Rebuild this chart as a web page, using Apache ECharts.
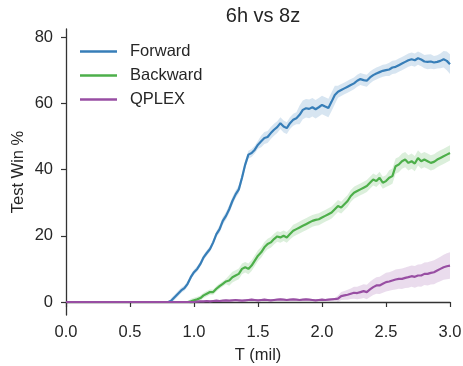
<!DOCTYPE html>
<html>
<head>
<meta charset="utf-8">
<script src="https://cdn.jsdelivr.net/npm/echarts@6/dist/echarts.min.js"></script>
<style>
  html, body { margin: 0; padding: 0; background: #fff; }
  #main { width: 463px; height: 366px; }
</style>
</head>
<body>
<div id="main"></div>
<script>
// 时间步 T (mil)，每 0.025 一个点
var T = [
  0.000, 0.025, 0.050, 0.075, 0.100, 0.125, 0.150, 0.175, 0.200, 0.225,
  0.250, 0.275, 0.300, 0.325, 0.350, 0.375, 0.400, 0.425, 0.450, 0.475,
  0.500, 0.525, 0.550, 0.575, 0.600, 0.625, 0.650, 0.675, 0.700, 0.725,
  0.750, 0.775, 0.800, 0.825, 0.850, 0.875, 0.900, 0.925, 0.950, 0.975,
  1.000, 1.025, 1.050, 1.075, 1.100, 1.125, 1.150, 1.175, 1.200, 1.225,
  1.250, 1.275, 1.300, 1.325, 1.350, 1.375, 1.400, 1.425, 1.450, 1.475,
  1.500, 1.525, 1.550, 1.575, 1.600, 1.625, 1.650, 1.675, 1.700, 1.725,
  1.750, 1.775, 1.800, 1.825, 1.850, 1.875, 1.900, 1.925, 1.950, 1.975,
  2.000, 2.025, 2.050, 2.075, 2.100, 2.125, 2.150, 2.175, 2.200, 2.225,
  2.250, 2.275, 2.300, 2.325, 2.350, 2.375, 2.400, 2.425, 2.450, 2.475,
  2.500, 2.525, 2.550, 2.575, 2.600, 2.625, 2.650, 2.675, 2.700, 2.725,
  2.750, 2.775, 2.800, 2.825, 2.850, 2.875, 2.900, 2.925, 2.950, 2.975,
  3.000
];

// Forward 均值
var forwardMean = [
  0, 0, 0, 0, 0, 0, 0, 0, 0, 0,
  0, 0, 0, 0, 0, 0, 0, 0, 0, 0,
  0, 0, 0, 0, 0, 0, 0, 0, 0, 0,
  0, 0, 0, 0.5, 1.5, 2.5, 3.5, 4.2, 5.5, 7.5,
  9.0, 10.0, 11.5, 13.5, 14.8, 16.0, 18.0, 20.5, 22.0, 24.5,
  26.0, 28.0, 30.5, 32.5, 34.0, 37.5, 41.5, 44.5, 45.0, 46.0,
  47.5, 48.5, 49.5, 49.8, 51.0, 52.0, 52.8, 54.0, 53.0, 52.5,
  54.0, 55.0, 55.5, 56.5, 58.0, 58.5, 58.3, 58.8, 58.2, 58.8,
  59.5, 59.0, 58.6, 60.5, 62.5, 63.5, 64.0, 64.5, 65.0, 65.5,
  66.0, 66.8, 67.3, 67.0, 66.8, 67.8, 68.5, 69.0, 69.4, 69.8,
  70.0, 70.2, 70.8, 71.0, 71.5, 72.0, 72.5, 73.0, 73.3, 73.0,
  73.6, 73.2, 72.6, 72.5, 72.6, 72.3, 72.5, 72.8, 73.3, 72.8,
  71.8
];
// Forward 标准差（阴影带半宽）
var forwardStd = [
  0, 0, 0, 0, 0, 0, 0, 0, 0, 0,
  0, 0, 0, 0, 0, 0, 0, 0, 0, 0,
  0, 0, 0, 0, 0, 0, 0, 0, 0, 0,
  0, 0, 0, 0.8, 0.8, 0.8, 0.8, 0.8, 0.8, 0.8,
  0.8, 0.8, 0.8, 0.8, 0.8, 0.8, 0.8, 0.8, 1.2, 1.2,
  1.2, 1.2, 1.2, 1.2, 1.2, 1.2, 1.2, 1.2, 1.2, 1.2,
  1.2, 1.8, 1.8, 1.8, 1.8, 1.8, 1.8, 1.8, 1.8, 1.8,
  1.8, 1.8, 1.8, 2.8, 2.8, 2.8, 2.8, 2.8, 2.8, 2.8,
  2.8, 2.8, 2.8, 2.8, 2.8, 1.8, 1.8, 1.8, 1.8, 1.8,
  1.8, 1.8, 1.8, 1.8, 1.8, 1.8, 1.8, 1.8, 1.8, 1.8,
  1.8, 2.0, 2.0, 2.0, 2.0, 2.0, 2.0, 2.0, 2.0, 2.0,
  2.0, 2.0, 2.0, 2.2, 2.2, 2.0, 2.0, 2.2, 2.5, 2.8,
  3.0
];

// Backward 均值
var backwardMean = [
  0, 0, 0, 0, 0, 0, 0, 0, 0, 0,
  0, 0, 0, 0, 0, 0, 0, 0, 0, 0,
  0, 0, 0, 0, 0, 0, 0, 0, 0, 0,
  0, 0, 0, 0, 0, 0, 0, 0, 0, 0.2,
  0.5, 0.8, 1.2, 2.0, 2.5, 3.0, 3.0, 4.0, 4.8, 5.5,
  6.2, 6.5, 7.5, 8.0, 8.5, 10.0, 10.5, 10.0, 11.0, 12.5,
  14.0, 15.0, 16.5, 17.5, 18.0, 19.0, 19.8, 19.5, 20.0, 19.5,
  20.5, 21.5, 22.0, 22.5, 23.0, 23.5, 24.0, 24.5, 24.8, 25.0,
  25.5, 26.0, 26.5, 27.0, 28.0, 29.0, 28.5, 29.5, 30.5, 32.0,
  33.0, 33.5, 34.0, 34.5, 35.0, 36.0, 37.0, 36.5, 37.5, 36.0,
  36.5, 37.5, 38.0, 41.0, 41.5, 42.5, 43.0, 42.0, 42.5, 41.8,
  43.5, 42.5, 43.0, 42.5, 42.0, 42.3, 43.0, 43.5, 44.0, 44.5,
  45.0
];
var backwardStd = [
  0, 0, 0, 0, 0, 0, 0, 0, 0, 0,
  0, 0, 0, 0, 0, 0, 0, 0, 0, 0,
  0, 0, 0, 0, 0, 0, 0, 0, 0, 0,
  0, 0, 0, 0, 0, 0, 0, 0, 0, 0.8,
  0.8, 0.8, 0.8, 0.8, 0.8, 0.8, 0.8, 0.8, 0.8, 0.8,
  0.8, 1.6, 1.6, 1.6, 1.6, 1.6, 1.6, 1.6, 1.6, 1.6,
  1.6, 1.6, 1.6, 1.6, 1.6, 1.6, 1.6, 1.6, 1.6, 1.6,
  1.6, 1.8, 1.8, 1.8, 1.8, 1.8, 1.8, 1.8, 1.8, 1.8,
  1.8, 1.8, 1.8, 1.8, 1.8, 1.8, 1.8, 1.8, 1.8, 1.8,
  1.8, 1.8, 1.8, 1.8, 1.8, 1.8, 1.8, 1.8, 1.8, 1.8,
  1.8, 2.3, 2.3, 2.3, 2.3, 2.3, 2.3, 2.3, 2.3, 2.3,
  2.3, 2.3, 2.3, 2.3, 2.3, 2.3, 2.3, 2.3, 2.3, 2.3,
  2.3
];

// QPLEX 均值
var qplexMean = [
  0, 0, 0, 0, 0, 0, 0, 0, 0, 0,
  0, 0, 0, 0, 0, 0, 0, 0, 0, 0,
  0, 0, 0, 0, 0, 0, 0, 0, 0, 0,
  0, 0, 0, 0, 0, 0, 0, 0, 0, 0,
  0, 0.1, 0.2, 0.2, 0.3, 0.2, 0.3, 0.4, 0.3, 0.4,
  0.5, 0.4, 0.5, 0.6, 0.5, 0.4, 0.5, 0.6, 0.7, 0.6,
  0.5, 0.6, 0.7, 0.6, 0.5, 0.6, 0.7, 0.8, 0.7, 0.6,
  0.7, 0.8, 0.7, 0.6, 0.7, 0.8, 0.7, 0.6, 0.5, 0.6,
  0.7, 0.6, 0.7, 0.8, 0.9, 1.0, 1.8, 2.0, 2.2, 2.5,
  2.8, 2.7, 3.0, 3.3, 3.0, 3.8, 4.5, 5.0, 5.0, 5.5,
  6.0, 6.2, 6.5, 6.8, 7.0, 7.0, 7.3, 7.5, 7.8, 7.6,
  8.0, 8.0, 8.5, 8.5, 8.8, 9.0, 9.5, 10.0, 10.5, 10.8,
  11.0
];
var qplexStd = [
  0, 0, 0, 0, 0, 0, 0, 0, 0, 0,
  0, 0, 0, 0, 0, 0, 0, 0, 0, 0,
  0, 0, 0, 0, 0, 0, 0, 0, 0, 0,
  0, 0, 0, 0, 0, 0, 0, 0, 0, 0,
  0, 0.3, 0.3, 0.3, 0.3, 0.3, 0.3, 0.3, 0.3, 0.3,
  0.3, 0.3, 0.3, 0.3, 0.3, 0.3, 0.3, 0.3, 0.3, 0.3,
  0.3, 0.3, 0.3, 0.3, 0.3, 0.3, 0.3, 0.3, 0.3, 0.3,
  0.3, 0.3, 0.3, 0.3, 0.3, 0.3, 0.3, 0.3, 0.3, 0.3,
  0.3, 0.3, 0.3, 0.3, 0.3, 1.0, 1.2, 1.3, 1.5, 1.6,
  1.8, 1.9, 2.0, 2.1, 2.2, 2.3, 2.4, 2.5, 2.6, 2.7,
  2.8, 2.8, 2.9, 3.0, 3.0, 3.1, 3.1, 3.2, 3.2, 3.3,
  3.3, 3.4, 3.4, 3.5, 3.5, 3.6, 3.6, 3.7, 3.8, 3.9,
  4.0
];

var yTicks = [0, 20, 40, 60, 80];

var FONT = "'Liberation Sans', Arial, sans-serif";
var TEXT_COLOR = '#262626';

var runs = [
  { name: 'Forward', mean: forwardMean, std: forwardStd, color: '#377eb8' },
  { name: 'Backward', mean: backwardMean, std: backwardStd, color: '#4daf4a' },
  { name: 'QPLEX', mean: qplexMean, std: qplexStd, color: '#984ea3' }
];

var myChart = echarts.init(document.getElementById('main'));

var series = [];
// 阴影带：custom 多边形，上沿正向 + 下沿反向
runs.forEach(function (r) {
  series.push({
    name: r.name + ' band',
    type: 'custom',
    silent: true,
    clip: true,
    data: T.map(function (t, i) { return [t, r.mean[i] - r.std[i], r.mean[i] + r.std[i]]; }),
    encode: { x: 0, y: [1, 2] },
    renderItem: function (params, api) {
      if (params.dataIndex !== 0) return;
      var n = T.length;
      var top = [], bottom = [];
      for (var i = 0; i < n; i++) {
        top.push(api.coord([T[i], r.mean[i] + r.std[i]]));
        bottom.push(api.coord([T[i], r.mean[i] - r.std[i]]));
      }
      var pts = top.concat(bottom.reverse());
      return {
        type: 'polygon',
        shape: { points: pts },
        style: { fill: r.color, opacity: 0.2 }
      };
    }
  });
});
// 均值线
runs.forEach(function (r) {
  series.push({
    name: r.name,
    type: 'line',
    symbol: 'none',
    color: r.color,
    lineStyle: { width: 2.2, color: r.color },
    data: T.map(function (t, i) { return [t, r.mean[i]]; })
  });
});

var option = {
  animation: false,
  backgroundColor: '#fff',
  title: {
    text: '6h vs 8z',
    left: 258,
    top: 1,
    textAlign: 'center',
    textStyle: { fontFamily: FONT, fontSize: 20, fontWeight: 'normal', color: TEXT_COLOR }
  },
  legend: {
    data: [
      { name: 'Forward', icon: 'rect' },
      { name: 'Backward', icon: 'rect' },
      { name: 'QPLEX', icon: 'rect' }
    ],
    orient: 'vertical',
    left: 75,
    top: 38,
    itemWidth: 37,
    itemHeight: 2.6,
    itemGap: 7,
    textStyle: { fontFamily: FONT, fontSize: 16.5, color: TEXT_COLOR, padding: [0, 0, 0, 8] }
  },
  grid: {
    left: 66,
    right: 13,
    top: 29,
    bottom: 51,
    containLabel: false,
    outerBoundsMode: 'none'
  },
  xAxis: {
    type: 'value',
    min: 0,
    max: 3,
    interval: 0.5,
    name: 'T (mil)',
    nameLocation: 'middle',
    nameGap: 32,
    nameMoveOverlap: false,
    nameTextStyle: { fontFamily: FONT, fontSize: 16.5, color: TEXT_COLOR },
    splitLine: { show: false },
    axisLine: { lineStyle: { color: '#333', width: 1.3 } },
    axisTick: { length: 5, lineStyle: { color: '#333', width: 1.2 } },
    axisLabel: {
      margin: 9,
      fontFamily: FONT, fontSize: 16.5, color: TEXT_COLOR,
      formatter: function (v) { return v.toFixed(1); }
    }
  },
  yAxis: {
    type: 'value',
    min: -3.92,
    max: 82.42,
    name: 'Test Win %',
    nameLocation: 'middle',
    nameGap: 39,
    nameMoveOverlap: false,
    nameTextStyle: { fontFamily: FONT, fontSize: 16.5, color: TEXT_COLOR },
    splitLine: { show: false },
    axisLine: { show: true, lineStyle: { color: '#333', width: 1.3 } },
    axisTick: { show: true, length: 5, customValues: yTicks, lineStyle: { color: '#333', width: 1.2 } },
    axisLabel: {
      margin: 13,
      customValues: yTicks,
      fontFamily: FONT, fontSize: 16.5, color: TEXT_COLOR
    }
  },
  series: series
};

option && myChart.setOption(option);
</script>
</body>
</html>
